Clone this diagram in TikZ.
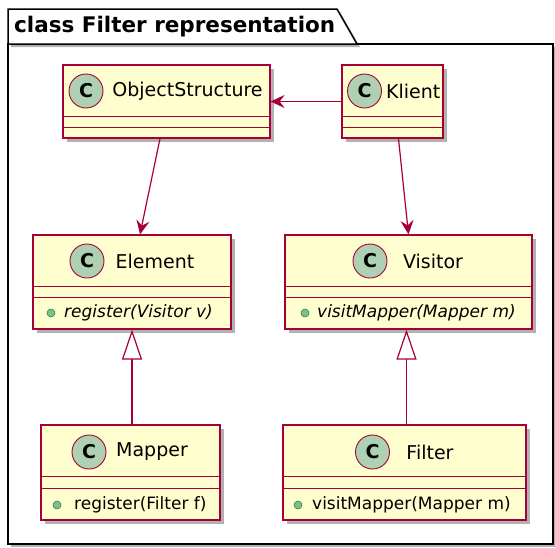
\documentclass[tikz,border=0pt]{standalone}
\usepackage{fontspec}
\setmainfont{DejaVu Sans}
\usetikzlibrary{arrows.meta,shadows}

\definecolor{umlred}{HTML}{A80036}
\definecolor{umlfill}{HTML}{FEFECE}
\definecolor{umlcirc}{HTML}{ADD1B2}
\definecolor{umldot}{HTML}{84BE84}
\definecolor{umldotline}{HTML}{038048}

\tikzset{
    classbox/.style={draw=umlred, fill=umlfill, line width=1.2pt, inner sep=0pt,
        drop shadow={shadow xshift=4pt, shadow yshift=-4pt, opacity=0.3, fill=black}},
    compline/.style={draw=umlred, line width=1.2pt},
    classcirc/.style={circle, draw=umlred, fill=umlcirc, line width=0.9pt,
        minimum size=34pt, inner sep=0pt, font=\fontsize{19}{19}\selectfont\bfseries},
    classname/.style={inner sep=0pt, font=\fontsize{19}{22}\selectfont},
    member/.style={inner sep=0pt, anchor=west, font=\fontsize{17}{20}\selectfont},
    pubdot/.style={circle, draw=umldotline, fill=umldot, line width=0.5pt,
        minimum size=8pt, inner sep=0pt},
    assoc/.style={draw=umlred, line width=1.2pt, -{Stealth[length=14pt, width=13pt, inset=5pt]}},
    inherit/.style={draw=umlred, line width=1.2pt, -{Triangle[open, length=30pt, width=20pt, fill=white]}}
}

\begin{document}
\begin{tikzpicture}[x=1pt, y=-1pt]
    \useasboundingbox (0,0) rectangle (555,547);

    % package frame
    \draw[line width=1.5pt, fill=white,
          drop shadow={shadow xshift=3pt, shadow yshift=-3pt, opacity=0.3, fill=black}]
        (8,44) rectangle (553,544);
    \draw[line width=1.5pt, fill=white,
          drop shadow={shadow xshift=3pt, shadow yshift=-3pt, opacity=0.3, fill=black}]
        (8,44) -- (8,9) -- (337,9) -- (357,44) -- cycle;
    \node[anchor=west, inner sep=0pt, font=\fontsize{21.5}{24}\selectfont\bfseries]
        (pkgtitle) at (14,27) {class Filter representation};

    % ObjectStructure
    \node[classbox, minimum width=207pt, minimum height=73pt] (objstruct) at (166.5,101.5) {};
    \draw[compline] ([yshift=-52pt]objstruct.north west) -- ([yshift=-52pt]objstruct.north east);
    \draw[compline] ([yshift=-63pt]objstruct.north west) -- ([yshift=-63pt]objstruct.north east);
    \node[classcirc] (objstructc) at (86,91) {C};
    \node[classname] (objstructn) at (187.5,91) {ObjectStructure};

    % Klient
    \node[classbox, minimum width=101pt, minimum height=73pt] (klient) at (392.5,101.5) {};
    \draw[compline] ([yshift=-52pt]klient.north west) -- ([yshift=-52pt]klient.north east);
    \draw[compline] ([yshift=-63pt]klient.north west) -- ([yshift=-63pt]klient.north east);
    \node[classcirc] (klientc) at (364.5,91) {C};
    \node[classname, anchor=west] (klientn) at (386,91) {Klient};

    % Element
    \node[classbox, minimum width=198pt, minimum height=94pt] (element) at (132,282) {};
    \draw[compline] ([yshift=-52pt]element.north west) -- ([yshift=-52pt]element.north east);
    \draw[compline] ([yshift=-63pt]element.north west) -- ([yshift=-63pt]element.north east);
    \node[classcirc] (elementc) at (87,261) {C};
    \node[classname] (elementn) at (155,261) {Element};
    \node[pubdot] (elementd) at (51,313) {};
    \node[member] (elementm) at (64,313) {\itshape register(Visitor v)};

    % Visitor
    \node[classbox, minimum width=247pt, minimum height=94pt] (visitor) at (408.5,282) {};
    \draw[compline] ([yshift=-52pt]visitor.north west) -- ([yshift=-52pt]visitor.north east);
    \draw[compline] ([yshift=-63pt]visitor.north west) -- ([yshift=-63pt]visitor.north east);
    \node[classcirc] (visitorc) at (370,261) {C};
    \node[classname] (visitorn) at (433,261) {Visitor};
    \node[pubdot] (visitord) at (305,313) {};
    \node[member] (visitorm) at (317,313) {\itshape visitMapper(Mapper m)};

    % Mapper
    \node[classbox, minimum width=179pt, minimum height=95pt] (mapper) at (130.5,472.5) {};
    \draw[compline] ([yshift=-52pt]mapper.north west) -- ([yshift=-52pt]mapper.north east);
    \draw[compline] ([yshift=-64pt]mapper.north west) -- ([yshift=-64pt]mapper.north east);
    \node[classcirc] (mapperc) at (89,452) {C};
    \node[classname] (mappern) at (152,452) {Mapper};
    \node[pubdot] (mapperd) at (57,505) {};
    \node[member] (mapperm) at (74,505) {register(Filter f)};

    % Filter
    \node[classbox, minimum width=243pt, minimum height=95pt] (filter) at (404.5,472.5) {};
    \draw[compline] ([yshift=-52pt]filter.north west) -- ([yshift=-52pt]filter.north east);
    \draw[compline] ([yshift=-64pt]filter.north west) -- ([yshift=-64pt]filter.north east);
    \node[classcirc] (filterc) at (372.5,452) {C};
    \node[classname] (filtern) at (430,452) {Filter};
    \node[pubdot] (filterd) at (298,505) {};
    \node[member] (filterm) at (312,505) {visitMapper(Mapper m)};

    % connectors
    \draw[assoc] (klient.west) -- (objstruct.east);
    \draw[assoc] ([xshift=-6.5pt]objstruct.south) -- ([xshift=8pt]element.north);
    \draw[assoc] ([xshift=6pt]klient.south) -- (visitor.north);
    \draw[inherit] (mapper.north -| element.south) -- (element.south);
    \draw[inherit] ([xshift=2pt]filter.north) -- ([xshift=2pt]filter.north |- visitor.south);
\end{tikzpicture}
\end{document}
